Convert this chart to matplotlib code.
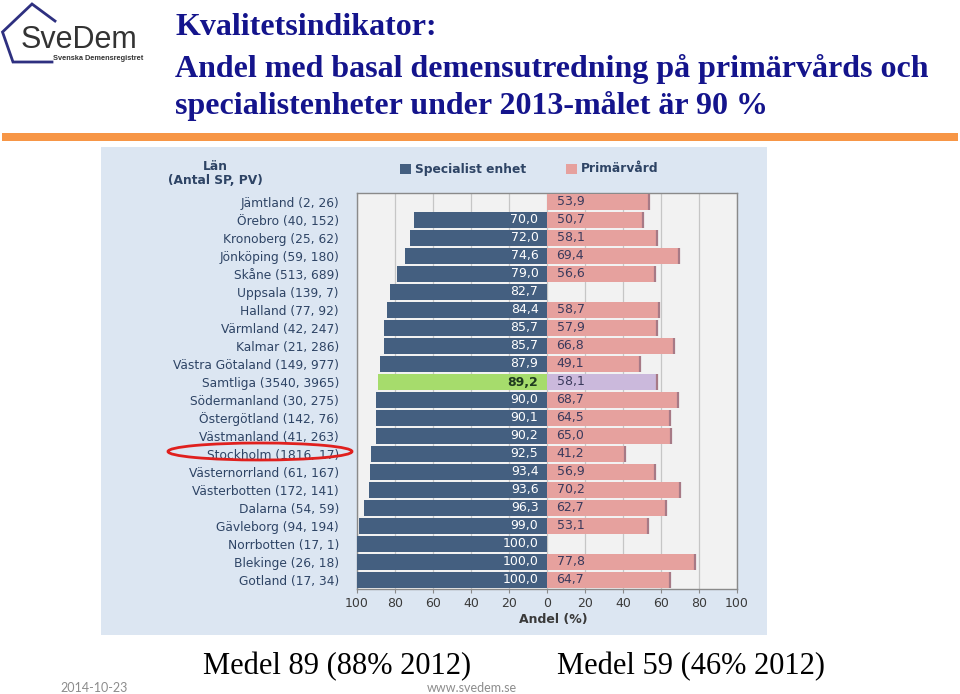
import numpy as np
import matplotlib
matplotlib.use("Agg")
import matplotlib.pyplot as plt
from matplotlib.patches import Rectangle, Ellipse
from matplotlib.lines import Line2D

# ---------------- data ----------------
regions = ["Jämtland (2, 26)", "Örebro (40, 152)", "Kronoberg (25, 62)", "Jönköping (59, 180)",
           "Skåne (513, 689)", "Uppsala (139, 7)", "Halland (77, 92)", "Värmland (42, 247)",
           "Kalmar (21, 286)", "Västra Götaland (149, 977)", "Samtliga (3540, 3965)",
           "Södermanland (30, 275)", "Östergötland (142, 76)", "Västmanland (41, 263)",
           "Stockholm (1816, 17)", "Västernorrland (61, 167)", "Västerbotten (172, 141)",
           "Dalarna (54, 59)", "Gävleborg (94, 194)", "Norrbotten (17, 1)",
           "Blekinge (26, 18)", "Gotland (17, 34)"]
specialist = [np.nan, 70.0, 72.0, 74.6, 79.0, 82.7, 84.4, 85.7, 85.7, 87.9, 89.2,
              90.0, 90.1, 90.2, 92.5, 93.4, 93.6, 96.3, 99.0, 100.0, 100.0, 100.0]
primarvard = [53.9, 50.7, 58.1, 69.4, 56.6, np.nan, 58.7, 57.9, 66.8, 49.1, 58.1,
              68.7, 64.5, 65.0, 41.2, 56.9, 70.2, 62.7, 53.1, np.nan, 77.8, 64.7]
xticks = [-100, -80, -60, -40, -20, 0, 20, 40, 60, 80, 100]
total_label = "Samtliga (3540, 3965)"
circled_label = "Stockholm (1816, 17)"

title_lines = ["Kvalitetsindikator:",
               "Andel med basal demensutredning på primärvårds och",
               "specialistenheter under 2013-målet är 90 %"]
mean_texts = ["Medel 89 (88% 2012)", "Medel 59 (46% 2012)"]

# ---------------- figure ----------------
W, H = 960, 694
fig = plt.figure(figsize=(9.6, 6.94), dpi=100)
fig.patch.set_facecolor("white")


def fx(x):
    return x / W


def fy(y):
    return 1 - y / H


# chart image background
fig.add_artist(Rectangle((fx(101), fy(635)), (767 - 101) / W, (635 - 147) / H,
                         transform=fig.transFigure, facecolor="#DCE6F2",
                         edgecolor="none", zorder=0))

# orange divider
fig.add_artist(Rectangle((fx(2), fy(141)), (958 - 2) / W, 8 / H,
                         transform=fig.transFigure, facecolor="#F79646",
                         edgecolor="none", zorder=1))

# logo
fig.add_artist(Line2D([fx(55), fx(32), fx(2.5), fx(13), fx(52)],
                      [fy(21), fy(4), fy(32), fy(62), fy(62)],
                      transform=fig.transFigure, color="#2E3080", lw=2,
                      solid_joinstyle="miter"))
fig.text(fx(21), fy(48), "SveDem", fontsize=22, family="Liberation Sans",
         color="#333333", va="baseline", ha="left")
fig.text(fx(53), fy(60), "Svenska Demensregistret", fontsize=5.3,
         family="Liberation Sans", color="#333333", va="baseline", ha="left",
         fontweight="bold")

# title
for txt, yb in zip(title_lines, [35, 77, 114]):
    fig.text(fx(175), fy(yb), txt, fontsize=23, family="Liberation Serif",
             fontweight="bold", color="#14148C", va="baseline", ha="left")

# ---------------- chart axes ----------------
ax = fig.add_axes([fx(357), fy(589), (737 - 357) / W, (589 - 193) / H])
ax.set_facecolor("#F2F2F2")
n = len(regions)
ypos = np.arange(n)
spec = np.array(specialist)
prim = np.array(primarvard)

left_cols = ["#A6DC6C" if r == total_label else "#445F80" for r in regions]
right_cols = ["#CBB9DC" if r == total_label else "#E6A19E" for r in regions]

ms = ~np.isnan(spec)
mp = ~np.isnan(prim)
bh = 0.84
ax.barh(ypos[ms], -spec[ms], height=bh, color=np.array(left_cols)[ms],
        edgecolor="none", zorder=3)
ax.barh(ypos[mp], prim[mp], height=bh, color=np.array(right_cols)[mp],
        edgecolor="none", zorder=3)
# darker right ends of the pink bars
ax.vlines(prim[mp], ypos[mp] - bh / 2, ypos[mp] + bh / 2,
          color="#A77A86", lw=1.6, zorder=4)


def fmt(v):
    return f"{v:.1f}".replace(".", ",")


for i in range(n):
    if ms[i]:
        is_tot = regions[i] == total_label
        ax.text(-4.5, i, fmt(spec[i]), ha="right", va="center", fontsize=9,
                color="#1F3A1F" if is_tot else "white",
                fontweight="bold" if is_tot else "normal", zorder=5)
    if mp[i]:
        ax.text(5, i, fmt(prim[i]), ha="left", va="center", fontsize=9,
                color="#3A3A5C", zorder=5)

ax.set_xlim(-100, 100)
ax.set_ylim(n - 0.5, -0.5)
ax.set_xticks(xticks)
ax.set_xticklabels([str(abs(t)) for t in xticks])
ax.xaxis.grid(True, color="#C6C6C6", lw=0.9, zorder=0)
ax.set_axisbelow(True)
ax.set_yticks(ypos)
ax.set_yticklabels(regions)
ax.tick_params(axis="y", length=0, pad=13, labelsize=8.8, labelcolor="#2E4465")
ax.tick_params(axis="x", length=3, color="#8A8A8A", labelsize=9,
               labelcolor="#3A3A3A", pad=3)
for s in ax.spines.values():
    s.set_color("#8A8A8A")
    s.set_linewidth(1)

fig.text(fx(553), fy(620), "Andel (%)", fontsize=9, fontweight="bold",
         color="#3A3A3A", ha="center", va="center")

# header and legend
fig.text(fx(215), fy(167), "Län", fontsize=8.8, fontweight="bold",
         color="#2E4465", ha="center", va="center")
fig.text(fx(215), fy(181), "(Antal SP, PV)", fontsize=8.8, fontweight="bold",
         color="#2E4465", ha="center", va="center")
fig.add_artist(Rectangle((fx(400), fy(174)), 11 / W, 10 / H, transform=fig.transFigure,
                         facecolor="#445F80", edgecolor="none"))
fig.text(fx(415), fy(169), "Specialist enhet", fontsize=8.8, fontweight="bold",
         color="#2E4465", ha="left", va="center")
fig.add_artist(Rectangle((fx(566), fy(174)), 11 / W, 10 / H, transform=fig.transFigure,
                         facecolor="#E6A19E", edgecolor="none"))
fig.text(fx(581), fy(169), "Primärvård", fontsize=8.8, fontweight="bold",
         color="#2E4465", ha="left", va="center")

# red ellipse around Stockholm
fig.add_artist(Ellipse((fx(260), fy(451.5)), 184 / W, 17 / H, transform=fig.transFigure,
                       facecolor="none", edgecolor="#E0201E", lw=2, zorder=10))

# bottom texts
fig.text(fx(203), fy(674), mean_texts[0], fontsize=22, family="Liberation Serif",
         color="black", ha="left", va="baseline")
fig.text(fx(557), fy(674), mean_texts[1], fontsize=22, family="Liberation Serif",
         color="black", ha="left", va="baseline")
fig.text(fx(60), fy(688), "2014-10-23", fontsize=9, family="Lato",
         color="#8C8C8C", ha="left", va="center")
fig.text(fx(427), fy(688), "www.svedem.se", fontsize=9, family="Lato",
         color="#8C8C8C", ha="left", va="center")

fig.savefig("out.png", dpi=100)
